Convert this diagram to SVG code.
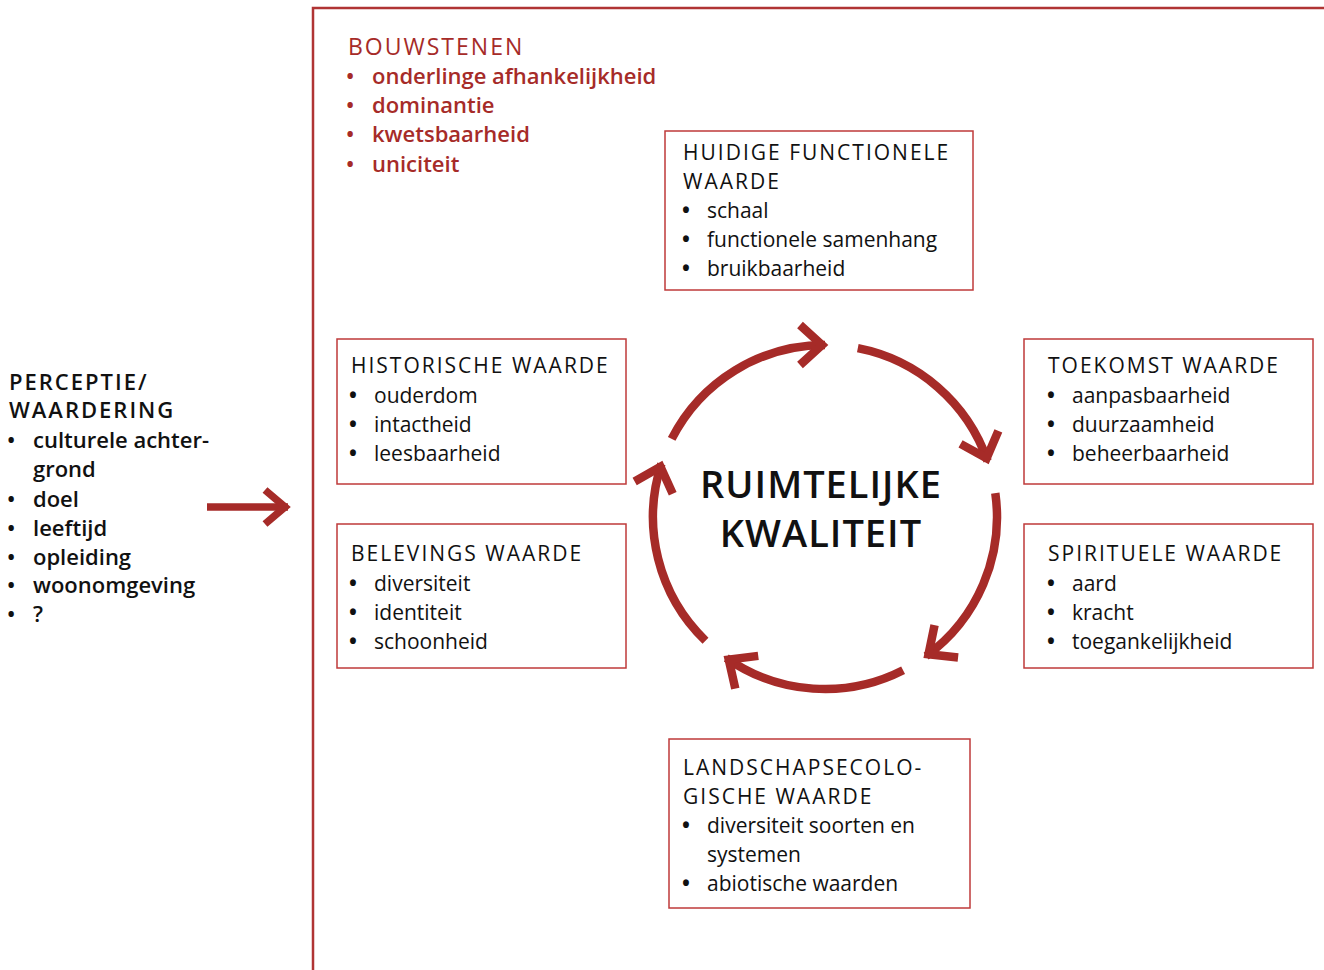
<svg xmlns="http://www.w3.org/2000/svg" width="1324" height="970" viewBox="0 0 1324 970">
<style>
text{font-family:"Open Sans","Noto Sans","Liberation Sans",sans-serif;font-size:21px;fill:#111;}
.h{letter-spacing:2px;}
.b{font-weight:700;}
.red{fill:#a62b28;}
.sb{font-weight:600;font-size:22px;}
.bh{font-size:23px;letter-spacing:2px;}
.ph{font-size:22px;font-weight:600;letter-spacing:2px;}
.box{fill:#fff;stroke:#bf3a3a;stroke-width:1.5;}
.arc{fill:none;stroke:#a62b28;stroke-width:8.5;marker-end:url(#ah);}
.title{font-size:38px;font-weight:600;letter-spacing:1px;text-anchor:middle;}
</style>
<defs>
<marker id="ah" markerUnits="userSpaceOnUse" orient="auto" markerWidth="60" markerHeight="60" refX="0" refY="0" overflow="visible">
<path d="M-25,-20 L-3,0 L-25,20" fill="none" stroke="#a62b28" stroke-width="8.5" stroke-linejoin="miter"/>
</marker>
<marker id="ah2" markerUnits="userSpaceOnUse" orient="auto" markerWidth="60" markerHeight="60" refX="0" refY="0" overflow="visible">
<path d="M-23,-17 L-3,0 L-23,17" fill="none" stroke="#a62b28" stroke-width="7.5" stroke-linejoin="miter"/>
</marker>
</defs>
<rect width="1324" height="970" fill="#fff"/>
<g id="frame">
<path d="M313,970 V8 H1324" fill="none" stroke="#b03434" stroke-width="2.5"/>
</g>
<g id="bouwstenen">
<text x="348" y="55" class="red bh">BOUWSTENEN</text>
<text x="346" y="84" class="red sb">•</text><text x="372" y="84" class="red sb">onderlinge afhankelijkheid</text>
<text x="346" y="113" class="red sb">•</text><text x="372" y="113" class="red sb">dominantie</text>
<text x="346" y="142" class="red sb">•</text><text x="372" y="142" class="red sb">kwetsbaarheid</text>
<text x="346" y="172" class="red sb">•</text><text x="372" y="172" class="red sb">uniciteit</text>
</g>
<g id="perceptie">
<text x="9" y="390" class="ph">PERCEPTIE/</text>
<text x="9" y="418" class="ph">WAARDERING</text>
<text x="7" y="448" class="sb">•</text><text x="33" y="448" class="sb">culturele achter-</text>
<text x="33" y="477" class="sb">grond</text>
<text x="7" y="507" class="sb">•</text><text x="33" y="507" class="sb">doel</text>
<text x="7" y="536" class="sb">•</text><text x="33" y="536" class="sb">leeftijd</text>
<text x="7" y="565" class="sb">•</text><text x="33" y="565" class="sb">opleiding</text>
<text x="7" y="593" class="sb">•</text><text x="33" y="593" class="sb">woonomgeving</text>
<text x="7" y="622" class="sb">•</text><text x="33" y="622" class="sb">?</text>
</g>
<g id="huidige">
<rect x="665" y="131" width="308" height="159" class="box"/>
<text x="683" y="160" class="h">HUIDIGE FUNCTIONELE</text>
<text x="683" y="189" class="h">WAARDE</text>
<text x="682" y="218" class="b">•</text><text x="707" y="218">schaal</text>
<text x="682" y="247" class="b">•</text><text x="707" y="247">functionele samenhang</text>
<text x="682" y="276" class="b">•</text><text x="707" y="276">bruikbaarheid</text>
</g>
<g id="historische">
<rect x="337" y="339" width="289" height="145" class="box"/>
<text x="351" y="373" class="h">HISTORISCHE WAARDE</text>
<text x="349" y="403" class="b">•</text><text x="374" y="403">ouderdom</text>
<text x="349" y="432" class="b">•</text><text x="374" y="432">intactheid</text>
<text x="349" y="461" class="b">•</text><text x="374" y="461">leesbaarheid</text>
</g>
<g id="belevings">
<rect x="337" y="524" width="289" height="144" class="box"/>
<text x="351" y="561" class="h">BELEVINGS WAARDE</text>
<text x="349" y="591" class="b">•</text><text x="374" y="591">diversiteit</text>
<text x="349" y="620" class="b">•</text><text x="374" y="620">identiteit</text>
<text x="349" y="649" class="b">•</text><text x="374" y="649">schoonheid</text>
</g>
<g id="toekomst">
<rect x="1024" y="339" width="289" height="145" class="box"/>
<text x="1048" y="373" class="h">TOEKOMST WAARDE</text>
<text x="1047" y="403" class="b">•</text><text x="1072" y="403">aanpasbaarheid</text>
<text x="1047" y="432" class="b">•</text><text x="1072" y="432">duurzaamheid</text>
<text x="1047" y="461" class="b">•</text><text x="1072" y="461">beheerbaarheid</text>
</g>
<g id="spirituele">
<rect x="1024" y="524" width="289" height="144" class="box"/>
<text x="1048" y="561" class="h">SPIRITUELE WAARDE</text>
<text x="1047" y="591" class="b">•</text><text x="1072" y="591">aard</text>
<text x="1047" y="620" class="b">•</text><text x="1072" y="620">kracht</text>
<text x="1047" y="649" class="b">•</text><text x="1072" y="649">toegankelijkheid</text>
</g>
<g id="landschaps">
<rect x="669" y="739" width="301" height="169" class="box"/>
<text x="683" y="775" class="h">LANDSCHAPSECOLO-</text>
<text x="683" y="804" class="h">GISCHE WAARDE</text>
<text x="682" y="833" class="b">•</text><text x="707" y="833">diversiteit soorten en</text>
<text x="707" y="862">systemen</text>
<text x="682" y="891" class="b">•</text><text x="707" y="891">abiotische waarden</text>
</g>
<g id="center">
<text x="821" y="498" class="title">RUIMTELIJKE</text>
<text x="821" y="547" class="title">KWALITEIT</text>
</g>
<g id="connectors">
<path class="arc" d="M671.7,438.9 A172,172 0 0,1 825,345"/>
<path class="arc" d="M857.8,348.2 A172,172 0 0,1 987.6,461"/>
<path class="arc" d="M995.3,493.1 A172,172 0 0,1 926.1,656.1"/>
<path class="arc" d="M903.1,670.3 A172,172 0 0,1 726.3,657.9"/>
<path class="arc" d="M705.5,640.7 A172,172 0 0,1 661.4,463.9"/>
<path d="M207,507 H288" fill="none" stroke="#a62b28" stroke-width="7.5" marker-end="url(#ah2)"/>
</g>
</svg>
